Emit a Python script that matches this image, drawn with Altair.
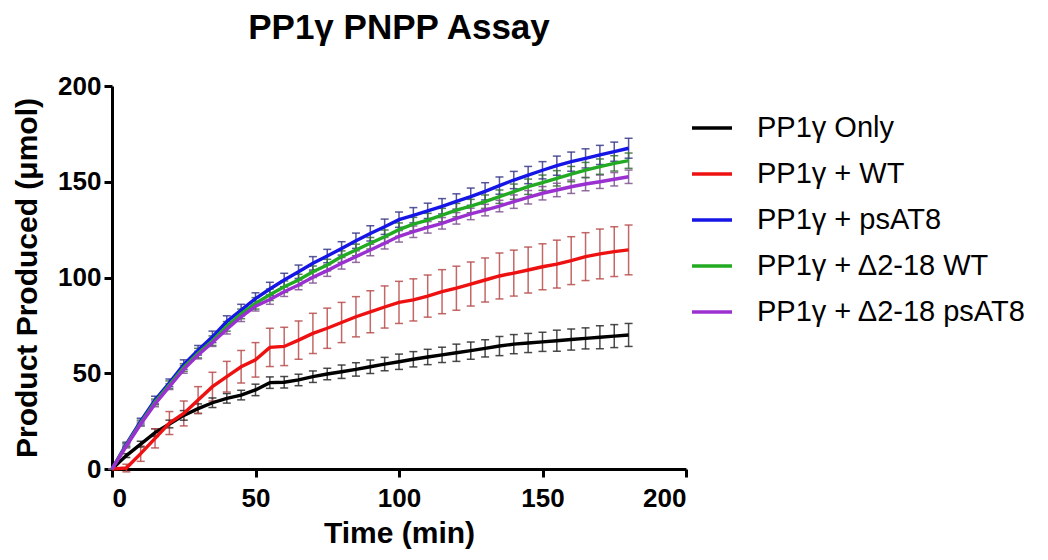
import altair as alt
import pandas as pd

# ---------------- data ----------------
times = list(range(0, 181, 5))

names = ["PP1γ Only", "PP1γ + WT", "PP1γ + psAT8", "PP1γ + Δ2-18 WT", "PP1γ + Δ2-18 psAT8"]
line_colors = ["#000000", "#ee1111", "#1515e6", "#22aa22", "#9b30d0"]
bar_colors = ["#2a2a2a", "#b84c4c", "#3a3a8a", "#3a6f3a", "#7f5590"]

only = [0, 7, 13, 19, 23.5, 28, 31.5, 34.6, 36.9, 38.6, 41.3, 45.1, 45.3, 46.5, 48.2, 49.6,
        50.8, 52, 53.4, 54.8, 56, 57.3, 58.5, 59.6, 60.7, 61.8, 63, 64.2, 65.2, 65.8, 66.4,
        67, 67.6, 68.2, 68.8, 69.4, 70]
wt = [0, 0.5, 8, 16, 24, 29, 36, 43, 48.2, 53.4, 57, 63.5, 64, 67.3, 70.8, 73.5, 76.5,
      79.5, 82.1, 84.6, 87, 88.3, 90.3, 92.6, 94.4, 96.6, 98.7, 100.8, 102.3, 103.9, 105.6,
      107, 108.8, 110.9, 112.3, 113.5, 114.4]
psat8 = [0, 13, 25, 36, 45, 54.5, 62, 69, 77, 83, 89, 94, 98.7, 103, 107.4, 111.2, 115.2,
         119.2, 123, 126.5, 130.2, 132.5, 134.8, 137.2, 139.7, 142.2, 145, 148, 150.9, 153.5,
         156, 158.4, 160.5, 162.2, 164, 165.7, 167.5]
d_wt = [0, 12.5, 24, 35, 44, 53, 60.5, 67, 74.5, 81, 86.5, 91, 95.2, 98.7, 103, 106.5, 110.9,
        114.4, 117.9, 121.3, 125, 127.9, 130, 132.6, 135.2, 137.3, 139.6, 142.2, 144.8, 147.4,
        149.5, 151.8, 154, 156.1, 157.9, 159.6, 161]
d_psat8 = [0, 12, 23.5, 34, 43, 52, 59.5, 66, 73, 79.5, 85, 88.5, 92.6, 96.1, 100.1, 103.6,
           107.4, 110.9, 114.4, 117.9, 121.5, 123.9, 126.2, 128.3, 130.9, 133.2, 135.2, 137.3,
           139.6, 141.9, 144, 145.7, 147.4, 148.8, 150, 151.3, 152.6]

err_only = [0, 1, 1.5, 2, 2, 2.5, 2.5, 2.5, 2.5, 2.5, 3, 3, 3, 3, 3, 3, 3.5, 3.5, 3.5, 3.5,
            4, 4, 4, 4, 4.5, 4.5, 4.5, 5, 5, 5, 5, 5.5, 5.5, 5.5, 6, 6, 6]
err_wt = [0, 2, 4, 5, 6, 6.5, 7, 7.5, 8, 8.5, 9, 10, 10, 10, 10.5, 10.5, 10.5, 10.5, 11, 11,
          11, 11, 11, 11.5, 11.5, 11.5, 11.5, 12, 12, 12, 12, 12.5, 12.5, 12.5, 13, 13, 13]
err_psat8 = [0, 1, 1.5, 2, 2, 2.5, 2.5, 3, 3, 3, 3, 3.5, 3.5, 3.5, 3.5, 3.5, 3.5, 4, 4, 4,
             4, 4, 4, 4, 4, 4.5, 4.5, 4.5, 4.5, 4.5, 4.5, 5, 5, 5, 5, 5, 5.2]
err_d_wt = [0, 1, 1.5, 1.5, 2, 2, 2.5, 2.5, 2.5, 2.5, 3, 3, 3, 3, 3, 3, 3, 3, 3, 3.5, 3.5,
            3.5, 3.5, 3.5, 3.5, 3.5, 3.5, 3.5, 4, 4, 4, 4, 4, 4, 4, 4, 4]
err_d_psat8 = [0, 1, 1, 1.5, 1.5, 2, 2, 2, 2.5, 2.5, 2.5, 2.5, 2.5, 2.5, 3, 3, 3, 3, 3, 3,
               3, 3, 3, 3, 3, 3, 3, 3, 3.5, 3.5, 3.5, 3.5, 3.5, 3.5, 3.5, 3.5, 3.5]

series = [only, wt, psat8, d_wt, d_psat8]
errors = [err_only, err_wt, err_psat8, err_d_wt, err_d_psat8]

rows = []
for order, (name, vals, errs) in enumerate(zip(names, series, errors)):
    for t, v, e in zip(times, vals, errs):
        rows.append({"series": name, "order": order, "time": t, "value": v,
                     "lo": v - e, "hi": v + e})
df = pd.DataFrame(rows)

FONT = "Liberation Sans"

x_enc = alt.X("time:Q", scale=alt.Scale(domain=[0, 200], nice=False),
              axis=alt.Axis(values=[0, 50, 100, 150, 200], title="Time (min)",
                            labelPadding=8, titlePadding=7))
y_scale = alt.Scale(domain=[0, 200], nice=False)
y_axis = alt.Axis(values=[0, 50, 100, 150, 200], title="Product Produced (μmol)",
                  labelPadding=3, titlePadding=15)

base = alt.Chart(df)

bar_color = alt.Color("series:N", scale=alt.Scale(domain=names, range=bar_colors),
                      legend=None)

rules = base.mark_rule(strokeWidth=1.5, opacity=0.85).encode(
    x=x_enc,
    y=alt.Y("lo:Q", scale=y_scale, axis=y_axis),
    y2="hi:Q",
    color=bar_color,
)
caps_hi = base.mark_tick(orient="horizontal", size=8, thickness=1.5, opacity=0.85).encode(
    x="time:Q", y="hi:Q", color=bar_color)
caps_lo = base.mark_tick(orient="horizontal", size=8, thickness=1.5, opacity=0.85).encode(
    x="time:Q", y="lo:Q", color=bar_color)

lines = base.mark_line(strokeWidth=3.4).encode(
    x="time:Q",
    y="value:Q",
    order="time:Q",
    detail="series:N",
    color=alt.Color("series:N", sort=names,
                    scale=alt.Scale(domain=names, range=line_colors),
                    legend=alt.Legend(title=None, orient="none", legendX=578, legendY=20,
                                      symbolType="stroke", symbolSize=1600,
                                      symbolStrokeWidth=3.4, labelFontSize=29,
                                      labelFont=FONT, labelOffset=23, rowPadding=9,
                                      labelLimit=400)),
)

chart = alt.layer(rules, caps_hi, caps_lo, lines).resolve_scale(
    color="independent"
).properties(
    width=574,
    height=383,
    title=alt.Title("PP1γ PNPP Assay", fontSize=35, fontWeight="bold", font=FONT,
                    anchor="middle", offset=27, color="black"),
    autosize=alt.AutoSizeParams(type="none"),
    padding={"left": 104, "top": 78, "right": 350, "bottom": 80},
).configure_view(stroke=None).configure_axis(
    grid=False,
    domainColor="black", domainWidth=3,
    tickColor="black", tickWidth=3, tickSize=8,
    labelFont=FONT, labelFontSize=26, labelFontWeight="bold", labelColor="black",
    titleFont=FONT, titleFontSize=30, titleFontWeight="bold", titleColor="black",
).configure_legend(labelColor="black")

chart.save("out.html", embed_options={"renderer": "svg", "actions": False})
